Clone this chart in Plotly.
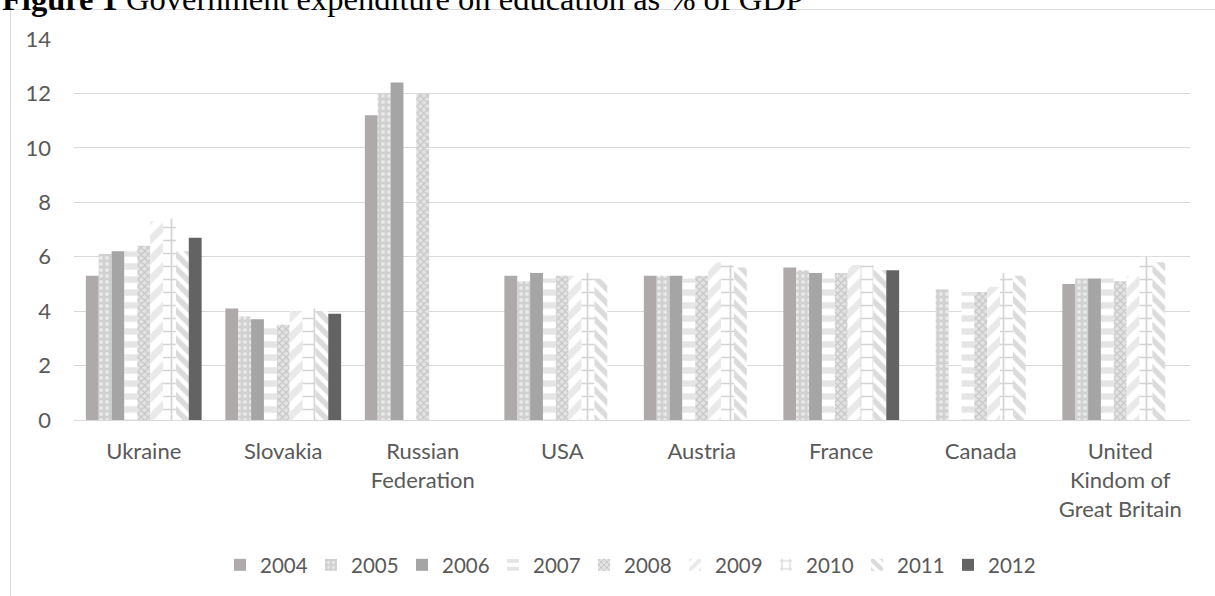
import plotly.graph_objects as go

countries = ["Ukraine", "Slovakia", "Russian<br>Federation", "USA", "Austria",
             "France", "Canada", "United<br>Kindom of<br>Great Britain"]
years = ["2004", "2005", "2006", "2007", "2008", "2009", "2010", "2011", "2012"]

v2004 = [5.3, 4.1, 11.2, 5.3, 5.3, 5.6, None, 5.0]
v2005 = [6.1, 3.8, 12.0, 5.1, 5.3, 5.5, 4.8, 5.2]
v2006 = [6.2, 3.7, 12.4, 5.4, 5.3, 5.4, None, 5.2]
v2007 = [6.2, 3.6, None, 5.2, 5.2, 5.2, 4.7, 5.2]
v2008 = [6.4, 3.5, 12.0, 5.3, 5.3, 5.4, 4.7, 5.1]
v2009 = [7.3, 4.0, None, 5.3, 5.8, 5.7, 4.9, 5.3]
v2010 = [7.4, 4.1, None, 5.4, 5.7, 5.7, 5.4, 6.0]
v2011 = [6.2, 4.0, None, 5.2, 5.6, 5.5, 5.3, 5.8]
v2012 = [6.7, 3.9, None, None, None, 5.5, None, None]

series = [v2004, v2005, v2006, v2007, v2008, v2009, v2010, v2011, v2012]

styles = [
    dict(color="#aeaaaa"),
    dict(color="#d3d3d3", pattern=dict(shape=".", fgcolor="#ffffff", bgcolor="#d0d0d0", size=6, solidity=0.35)),
    dict(color="#a5a5a5"),
    dict(color="#ffffff", pattern=dict(shape="-", fgcolor="#cccccc", bgcolor="#ffffff", size=13, solidity=0.5)),
    dict(color="#e0e0e0", pattern=dict(shape="x", fgcolor="#a6a6a6", bgcolor="#e3e3e3", size=5, solidity=0.4)),
    dict(color="#ffffff", pattern=dict(shape="/", fgcolor="#d3d3d3", bgcolor="#ffffff", size=14, solidity=0.5)),
    dict(color="#ffffff", pattern=dict(shape="+", fgcolor="#a8a8a8", bgcolor="#ffffff", size=13, solidity=0.25)),
    dict(color="#ffffff", pattern=dict(shape="\\", fgcolor="#b8b8b8", bgcolor="#ffffff", size=10, solidity=0.55)),
    dict(color="#636363"),
]

fig = go.Figure()
for yr, vals, st in zip(years, series, styles):
    fig.add_trace(go.Bar(
        name=yr, x=countries, y=vals,
        marker=dict(line=dict(width=0), **st),
    ))

W, H = 1215, 596
L, R, T, B = 74, 25, 39, 175
pw = W - L - R
ph = H - T - B

def px_x(p):
    return (p - L) / pw

def px_y(p):
    return 1 - (p - T) / ph

fig.update_layout(
    width=W, height=H,
    margin=dict(l=L, r=R, t=T, b=B, pad=0),
    paper_bgcolor="white", plot_bgcolor="white",
    barmode="group", bargap=0.17, bargroupgap=0,
    font=dict(family="Lato", size=22, color="#595959"),
    showlegend=True,
    legend=dict(orientation="h", x=px_x(220), xanchor="left", y=px_y(565), yanchor="middle",
                entrywidth=46, entrywidthmode="pixels", itemwidth=30, tracegroupgap=0,
                font=dict(family="Lato", size=20.5, color="#595959"),
                bgcolor="rgba(0,0,0,0)"),
    xaxis=dict(showgrid=False, showline=True, linecolor="#d9d9d9", linewidth=1,
               ticks="", ticklabelstandoff=12, tickfont=dict(family="Lato", size=22, color="#595959")),
    yaxis=dict(range=[0, 14], dtick=2, showgrid=True, gridcolor="#d9d9d9", gridwidth=1,
               zeroline=False, showline=False, ticks="", ticklabelstandoff=22,
               tickfont=dict(family="Lato", size=22, color="#595959")),
    shapes=[dict(type="rect", xref="paper", yref="paper",
                 x0=px_x(10.5), x1=px_x(1230), y0=px_y(620), y1=px_y(9.5),
                 line=dict(color="#d9d9d9", width=1), fillcolor="rgba(0,0,0,0)", layer="below")],
    annotations=[dict(text="<b>Figure 1</b> Government expenditure on education as % of GDP",
                      xref="paper", yref="paper", x=px_x(0), xanchor="left",
                      y=px_y(19), yanchor="bottom", showarrow=False,
                      font=dict(family="Liberation Serif", size=32.5, color="black"))],
)

fig.write_html("out.html")
